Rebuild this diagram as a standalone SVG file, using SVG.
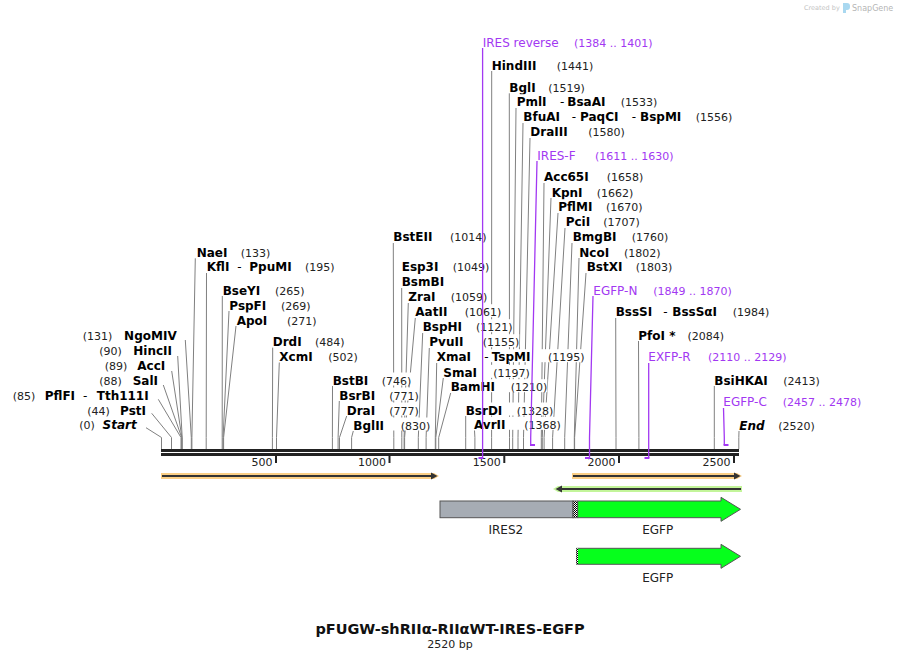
<svg xmlns="http://www.w3.org/2000/svg" width="901" height="659" viewBox="0 0 901 659">
<style>
text{font-family:"DejaVu Sans",Verdana,sans-serif}
.n{font-size:12px;font-weight:bold;fill:#000}
.i{font-style:italic}
.d{font-size:12px;fill:#000}
.p{font-size:11px;fill:#222}
.pr{font-size:12px;fill:#a238f2}
.prn{font-size:11px;fill:#a238f2}
.t{font-size:11px;fill:#222}
.lab{font-size:12px;fill:#222}
.ln{fill:none;stroke:#808080;stroke-width:1}
.pl{fill:none;stroke:#a238f2;stroke-width:1.3}
.hk{fill:none;stroke:#a238f2;stroke-width:2}
.tick{stroke:#222;stroke-width:2}
.bg{fill:#fff}
</style>
<defs>
<pattern id="hatch" width="2" height="2" patternUnits="userSpaceOnUse">
<rect width="2" height="2" fill="#fff"/>
<rect width="1" height="1" fill="#000"/>
<rect x="1" y="1" width="1" height="1" fill="#000"/>
</pattern>
</defs>
<rect width="901" height="659" fill="#fff"/>

<g id="watermark">
<text x="804" y="10" style="font-size:6.5px;fill:#c4c4c4">Created by</text>
<path d="M843,3 h4 a3,3 0 0 1 3,3 v1 a3,3 0 0 1 -3,3 h-1 v3 h-3 z" fill="#a9d8f0"/>
<text x="852" y="11" style="font-size:8px;fill:#b5b5b5">SnapGene</text>
</g>

<g id="connectors">
<polyline class="ln" points="146,427.7 161.5,437.5 161.5,449"/>
<polyline class="ln" points="151.7,413.3 171.5,437.5 171.5,449"/>
<polyline class="ln" points="158.3,399.3 181,437.5 181,449"/>
<polyline class="ln" points="163.3,385 181.7,437.5 181.7,449"/>
<polyline class="ln" points="171.7,371 181.9,437.5 181.9,449"/>
<polyline class="ln" points="177.7,356 182.2,437.5 182.2,449"/>
<polyline class="ln" points="185.3,340 191.3,437.5 191.3,449"/>
<polyline class="ln" points="195.3,258.3 191.9,437.5 191.9,449"/>
<polyline class="ln" points="206.5,273 206.2,437.5 206.2,449"/>
<polyline class="ln" points="222.3,296 222.2,437.5 222.2,449"/>
<polyline class="ln" points="229,311 223.1,437.5 223.1,449"/>
<polyline class="ln" points="236,326 223.6,437.5 223.6,449"/>
<polyline class="ln" points="272.7,347.5 272.4,437.5 272.4,449"/>
<polyline class="ln" points="279.3,362.5 276.5,437.5 276.5,449"/>
<polyline class="ln" points="332.5,386 332.4,437.5 332.4,449"/>
<polyline class="ln" points="339.3,401 338.1,437.5 338.1,449"/>
<polyline class="ln" points="346.7,416 339.5,437.5 339.5,449"/>
<polyline class="ln" points="353.3,431 351.6,437.5 351.6,449"/>
<polyline class="ln" points="393.3,243 393.8,437.5 393.8,449"/>
<polyline class="ln" points="401.7,288 401.8,437.5 401.8,449"/>
<polyline class="ln" points="408.3,303 404.1,437.5 404.1,449"/>
<polyline class="ln" points="415.3,318 404.6,437.5 404.6,449"/>
<polyline class="ln" points="422.7,333 418.3,437.5 418.3,449"/>
<polyline class="ln" points="429.3,348 426.1,437.5 426.1,449"/>
<polyline class="ln" points="436.7,363 435.3,437.5 435.3,449"/>
<polyline class="ln" points="443.3,378 435.8,437.5 435.8,449"/>
<polyline class="ln" points="450.7,393 438.7,437.5 438.7,449"/>
<polyline class="ln" points="465.7,416 465.7,437.5 465.7,449"/>
<polyline class="ln" points="474.5,430.5 474.9,437.5 474.9,449"/>
<polyline class="ln" points="491.7,71 491.6,437.5 491.6,449"/>
<polyline class="ln" points="509.3,93.3 509.5,437.5 509.5,449"/>
<polyline class="ln" points="516,108 512.7,437.5 512.7,449"/>
<polyline class="ln" points="523,123 518,437.5 518,449"/>
<polyline class="ln" points="530,138 523.5,437.5 523.5,449"/>
<polyline class="ln" points="544,183 541.3,437.5 541.3,449"/>
<polyline class="ln" points="551,198 542.3,437.5 542.3,449"/>
<polyline class="ln" points="558,213 544.1,437.5 544.1,449"/>
<polyline class="ln" points="565,228 552.6,437.5 552.6,449"/>
<polyline class="ln" points="572,243 564.7,437.5 564.7,449"/>
<polyline class="ln" points="579,258 574.3,437.5 574.3,449"/>
<polyline class="ln" points="586,273 574.6,437.5 574.6,449"/>
<polyline class="ln" points="615.7,318 616,437.5 616,449"/>
<polyline class="ln" points="638.5,341 638.9,437.5 638.9,449"/>
<polyline class="ln" points="714.3,386 714.3,437.5 714.3,449"/>
<polyline class="ln" points="739,431 738.8,437.5 738.8,449"/>
</g>

<g id="backbone">
<rect x="161" y="449" width="578" height="3" fill="#222"/>
<rect x="161" y="453" width="578" height="3" fill="#222"/>
<line class="tick" x1="276" y1="456" x2="276" y2="463"/>
<line class="tick" x1="389.5" y1="456" x2="389.5" y2="463"/>
<line class="tick" x1="504.3" y1="456" x2="504.3" y2="463"/>
<line class="tick" x1="619" y1="456" x2="619" y2="463"/>
<line class="tick" x1="734" y1="456" x2="734" y2="463"/>
<text class="t" x="272.5" y="466" text-anchor="end">500</text>
<text class="t" x="386" y="466" text-anchor="end">1000</text>
<text class="t" x="500.8" y="466" text-anchor="end">1500</text>
<text class="t" x="615.5" y="466" text-anchor="end">2000</text>
<text class="t" x="730.5" y="466" text-anchor="end">2500</text>
</g>

<g id="start"><rect class="bg" x="79" y="417" width="58.5" height="13"/><text class="p" x="79.3" y="429">(0)</text><text class="n i" x="136.7" y="429" text-anchor="end">Start</text></g>
<g id="PstI"><rect class="bg" x="87" y="402.5" width="59.5" height="13"/><text class="p" x="87.3" y="414.5">(44)</text><text class="n" x="146" y="414.5" text-anchor="end">PstI</text></g>
<g id="PflFI"><rect class="bg" x="12" y="387.5" width="137.5" height="13"/><text class="p" x="12.7" y="399.5">(85)</text><text class="n" x="44.7" y="399.5">PflFI</text><text class="d" x="83" y="399.5">-</text><text class="n" x="148.7" y="399.5" text-anchor="end">Tth111I</text></g>
<g id="SalI"><rect class="bg" x="99" y="372.5" width="59.5" height="13"/><text class="p" x="99.3" y="384.5">(88)</text><text class="n" x="158" y="384.5" text-anchor="end">SalI</text></g>
<g id="AccI"><rect class="bg" x="104" y="357.5" width="62" height="13"/><text class="p" x="104.7" y="369.5">(89)</text><text class="n" x="165.3" y="369.5" text-anchor="end">AccI</text></g>
<g id="HincII"><rect class="bg" x="99" y="342.5" width="73.5" height="13"/><text class="p" x="99.3" y="354.5">(90)</text><text class="n" x="172" y="354.5" text-anchor="end">HincII</text></g>
<g id="NgoMIV"><rect class="bg" x="82" y="327.5" width="95.5" height="13"/><text class="p" x="82.7" y="339.5">(131)</text><text class="n" x="176.7" y="339.5" text-anchor="end">NgoMIV</text></g>

<g id="NaeI"><rect class="bg" x="196" y="244.8" width="74.3" height="13"/><text class="n" x="196.7" y="256.8">NaeI</text><text class="p" x="240.7" y="256.8">(133)</text></g>
<g id="KflI"><rect class="bg" x="206" y="259.2" width="128.6" height="13"/><text class="n" x="206.7" y="271.2">KflI</text><text class="d" x="237.3" y="271.2">-</text><text class="n" x="249.3" y="271.2">PpuMI</text><text class="p" x="305" y="271.2">(195)</text></g>
<g id="BseYI"><rect class="bg" x="222" y="282.5" width="82.6" height="13"/><text class="n" x="222.7" y="294.5">BseYI</text><text class="p" x="275" y="294.5">(265)</text></g>
<g id="PspFI"><rect class="bg" x="228.5" y="297.5" width="82.1" height="13"/><text class="n" x="229.3" y="309.5">PspFI</text><text class="p" x="281" y="309.5">(269)</text></g>
<g id="ApoI"><rect class="bg" x="236" y="312.5" width="80.6" height="13"/><text class="n" x="236.7" y="324.5">ApoI</text><text class="p" x="287" y="324.5">(271)</text></g>
<g id="DrdI"><rect class="bg" x="272" y="334.2" width="72.6" height="13"/><text class="n" x="272.7" y="346.2">DrdI</text><text class="p" x="315" y="346.2">(484)</text></g>
<g id="XcmI"><rect class="bg" x="278.5" y="349" width="79.4" height="13"/><text class="n" x="279.3" y="361">XcmI</text><text class="p" x="328.3" y="361">(502)</text></g>
<g id="BstBI"><rect class="bg" x="332" y="372.5" width="79.3" height="13"/><text class="n" x="332.7" y="384.5">BstBI</text><text class="p" x="381.7" y="384.5">(746)</text></g>
<g id="BsrBI"><rect class="bg" x="338.5" y="387.5" width="80.4" height="13"/><text class="n" x="339.3" y="399.5">BsrBI</text><text class="p" x="389.3" y="399.5">(771)</text></g>
<g id="DraI"><rect class="bg" x="346" y="402.5" width="72.9" height="13"/><text class="n" x="346.7" y="414.5">DraI</text><text class="p" x="389.3" y="414.5">(777)</text></g>
<g id="BglII"><rect class="bg" x="352.5" y="417.5" width="77.8" height="13"/><text class="n" x="353.3" y="429.5">BglII</text><text class="p" x="400.7" y="429.5">(830)</text></g>
<g id="BstEII"><rect class="bg" x="392.5" y="229.2" width="94.1" height="13"/><text class="n" x="393.3" y="241.2">BstEII</text><text class="p" x="450" y="241.2">(1014)</text></g>
<g id="Esp3I"><rect class="bg" x="401" y="259.2" width="88.3" height="13"/><rect class="bg" x="401" y="274.2" width="43" height="13"/><text class="n" x="401.7" y="271.2">Esp3I</text><text class="p" x="452.7" y="271.2">(1049)</text><text class="n" x="401.7" y="286.2">BsmBI</text></g>
<g id="ZraI"><rect class="bg" x="407.5" y="289.2" width="79.8" height="13"/><text class="n" x="408.3" y="301.2">ZraI</text><text class="p" x="450.7" y="301.2">(1059)</text></g>
<g id="AatII"><rect class="bg" x="414.5" y="304.2" width="86.8" height="13"/><text class="n" x="415.3" y="316.2">AatII</text><text class="p" x="464.7" y="316.2">(1061)</text></g>
<g id="BspHI"><rect class="bg" x="422" y="319.2" width="90.6" height="13"/><text class="n" x="422.7" y="331.2">BspHI</text><text class="p" x="476" y="331.2">(1121)</text></g>
<g id="PvuII"><rect class="bg" x="428.5" y="334.2" width="90.8" height="13"/><text class="n" x="429.3" y="346.2">PvuII</text><text class="p" x="482.7" y="346.2">(1155)</text></g>
<g id="XmaI"><rect class="bg" x="436" y="349.2" width="148.6" height="13"/><text class="n" x="436.7" y="361.2">XmaI</text><text class="d" x="484.3" y="361.2">-</text><text class="n" x="491.7" y="361.2">TspMI</text><text class="p" x="548" y="361.2">(1195)</text></g>
<g id="SmaI"><rect class="bg" x="442.5" y="364.8" width="87.4" height="13"/><text class="n" x="443.3" y="376.8">SmaI</text><text class="p" x="493.3" y="376.8">(1197)</text></g>
<g id="BamHI"><rect class="bg" x="450" y="379.2" width="97.3" height="13"/><text class="n" x="450.7" y="391.2">BamHI</text><text class="p" x="510.7" y="391.2">(1210)</text></g>
<g id="BsrDI"><rect class="bg" x="465" y="402.5" width="88.3" height="13"/><text class="n" x="465.7" y="414.5">BsrDI</text><text class="p" x="516.7" y="414.5">(1328)</text></g>
<g id="AvrII"><rect class="bg" x="473.3" y="416.8" width="87.6" height="13"/><text class="n" x="474" y="428.8">AvrII</text><text class="p" x="524.3" y="428.8">(1368)</text></g>
<g id="HindIII"><rect class="bg" x="491" y="57.5" width="102.3" height="13"/><text class="n" x="491.7" y="69.5">HindIII</text><text class="p" x="556.7" y="69.5">(1441)</text></g>
<g id="BglI"><rect class="bg" x="508.5" y="79.8" width="76.4" height="13"/><text class="n" x="509.3" y="91.8">BglI</text><text class="p" x="548.3" y="91.8">(1519)</text></g>
<g id="PmlI"><rect class="bg" x="516" y="94.2" width="141.3" height="13"/><text class="n" x="516.7" y="106.2">PmlI</text><text class="d" x="560" y="106.2">-</text><text class="n" x="567.3" y="106.2">BsaAI</text><text class="p" x="620.7" y="106.2">(1533)</text></g>
<g id="BfuAI"><rect class="bg" x="522.5" y="109.2" width="209.8" height="13"/><text class="n" x="523.3" y="121.2">BfuAI</text><text class="d" x="571.7" y="121.2">-</text><text class="n" x="580" y="121.2">PaqCI</text><text class="d" x="631.7" y="121.2">-</text><text class="n" x="640" y="121.2">BspMI</text><text class="p" x="695.7" y="121.2">(1556)</text></g>
<g id="DraIII"><rect class="bg" x="529.5" y="124.2" width="95.4" height="13"/><text class="n" x="530.3" y="136.2">DraIII</text><text class="p" x="588.3" y="136.2">(1580)</text></g>
<g id="Acc65I"><rect class="bg" x="543.3" y="169.2" width="100" height="13"/><text class="n" x="544" y="181.2">Acc65I</text><text class="p" x="606.7" y="181.2">(1658)</text></g>
<g id="KpnI"><rect class="bg" x="551" y="184.8" width="82.3" height="13"/><text class="n" x="551.7" y="196.8">KpnI</text><text class="p" x="596.7" y="196.8">(1662)</text></g>
<g id="PflMI"><rect class="bg" x="557.5" y="199.2" width="85.1" height="13"/><text class="n" x="558.3" y="211.2">PflMI</text><text class="p" x="606" y="211.2">(1670)</text></g>
<g id="PciI"><rect class="bg" x="565" y="214.2" width="74.9" height="13"/><text class="n" x="565.7" y="226.2">PciI</text><text class="p" x="603.3" y="226.2">(1707)</text></g>
<g id="BmgBI"><rect class="bg" x="572" y="229.2" width="96.3" height="13"/><text class="n" x="572.7" y="241.2">BmgBI</text><text class="p" x="631.7" y="241.2">(1760)</text></g>
<g id="NcoI"><rect class="bg" x="578.5" y="244.5" width="82.1" height="13"/><text class="n" x="579.3" y="256.5">NcoI</text><text class="p" x="624" y="256.5">(1802)</text></g>
<g id="BstXI"><rect class="bg" x="586" y="259.2" width="86.3" height="13"/><text class="n" x="586.7" y="271.2">BstXI</text><text class="p" x="635.7" y="271.2">(1803)</text></g>
<g id="BssSI"><rect class="bg" x="615" y="304.2" width="154.3" height="13"/><text class="n" x="615.7" y="316.2">BssSI</text><text class="d" x="663.3" y="316.2">-</text><text class="n" x="672.3" y="316.2">BssSαI</text><text class="p" x="732.7" y="316.2">(1984)</text></g>
<g id="PfoI"><rect class="bg" x="637.5" y="327.5" width="86.6" height="13"/><text class="n" x="638.3" y="339.5">PfoI *</text><text class="p" x="687.5" y="339.5">(2084)</text></g>
<g id="BsiHKAI"><rect class="bg" x="713.5" y="372.5" width="106.4" height="13"/><text class="n" x="714.3" y="384.5">BsiHKAI</text><text class="p" x="783.3" y="384.5">(2413)</text></g>
<g id="end"><rect class="bg" x="738.5" y="417.5" width="76.4" height="13"/><text class="n i" x="739.3" y="429.5">End</text><text class="p" x="778.3" y="429.5">(2520)</text></g>

<g id="primer-connectors">
<polyline class="pl" points="482.6,48 482.6,458"/>
<line class="hk" x1="478.5" y1="458" x2="483.3" y2="458"/>
<polyline class="pl" points="537,161 530.7,437.5 530.7,445"/>
<line class="hk" x1="530" y1="445" x2="535" y2="445"/>
<polyline class="pl" points="593,296 589.5,437.5 589.5,458"/>
<line class="hk" x1="585" y1="458" x2="590.2" y2="458"/>
<polyline class="pl" points="648.7,363 648.7,458"/>
<line class="hk" x1="644.5" y1="458" x2="649.4" y2="458"/>
<polyline class="pl" points="723.5,408 724.3,437.5 724.3,445"/>
<line class="hk" x1="723.6" y1="445" x2="728.5" y2="445"/>
</g>

<g id="IRES-reverse"><text class="pr" x="482.7" y="46.8">IRES reverse</text><text class="prn" x="574" y="46.8">(1384 .. 1401)</text></g>
<g id="IRES-F"><text class="pr" x="537.3" y="159.5">IRES-F</text><text class="prn" x="595" y="159.5">(1611 .. 1630)</text></g>
<g id="EGFP-N"><text class="pr" x="593.3" y="294.5">EGFP-N</text><text class="prn" x="653.3" y="294.5">(1849 .. 1870)</text></g>
<g id="EXFP-R"><text class="pr" x="648.3" y="361.2">EXFP-R</text><text class="prn" x="708" y="361.2">(2110 .. 2129)</text></g>
<g id="EGFP-C"><text class="pr" x="723.3" y="406.2">EGFP-C</text><text class="prn" x="782.7" y="406.2">(2457 .. 2478)</text></g>

<g id="feature-orange-1">
<polygon points="161,473 434,473 439,476 434,479 161,479" fill="#fbcf86"/>
<line x1="162" y1="476" x2="433" y2="476" stroke="#333" stroke-width="2"/>
<polygon points="431,472.5 437.5,476 431,479.5" fill="#333"/>
</g>
<g id="feature-orange-2">
<polygon points="572,473 737,473 742,476 737,479 572,479" fill="#fbcf86"/>
<line x1="573" y1="476" x2="736" y2="476" stroke="#333" stroke-width="2"/>
<polygon points="734,472.5 740.5,476 734,479.5" fill="#333"/>
</g>
<g id="feature-green">
<polygon points="558,486 742,486 742,492 558,492 553,489" fill="#c3f59a"/>
<line x1="560" y1="489" x2="741" y2="489" stroke="#333" stroke-width="2"/>
<polygon points="562,485.5 555.5,489 562,492.5" fill="#333"/>
</g>

<g id="IRES2">
<rect x="440" y="501" width="133" height="16.7" fill="#a6acb4" stroke="#555" stroke-width="1"/>
<rect x="573" y="501" width="4.7" height="16.7" fill="url(#hatch)" stroke="#555" stroke-width="1"/>
<text class="lab" x="505.8" y="534" text-anchor="middle">IRES2</text>
</g>
<g id="EGFP-1">
<polygon points="577.7,501 721,501 721,497.3 740.5,509.3 721,521.3 721,517.7 577.7,517.7" fill="#06ff1c" stroke="#555" stroke-width="1"/>
<text class="lab" x="657.7" y="534" text-anchor="middle">EGFP</text>
</g>
<g id="EGFP-2">
<polygon points="576.5,548.3 721,548.3 721,544.3 740.5,556.3 721,568.3 721,564.3 576.5,564.3" fill="#06ff1c" stroke="#555" stroke-width="1"/>
<rect x="576.5" y="548.3" width="1.5" height="16" fill="url(#hatch)"/>
<text class="lab" x="657.7" y="581.5" text-anchor="middle">EGFP</text>
</g>

<g id="title">
<text x="450" y="634" text-anchor="middle" style="font-size:14.5px;font-weight:bold;fill:#111">pFUGW-shRIIα-RIIαWT-IRES-EGFP</text>
<text x="450" y="647.5" text-anchor="middle" style="font-size:11px;fill:#222">2520 bp</text>
</g>
</svg>
